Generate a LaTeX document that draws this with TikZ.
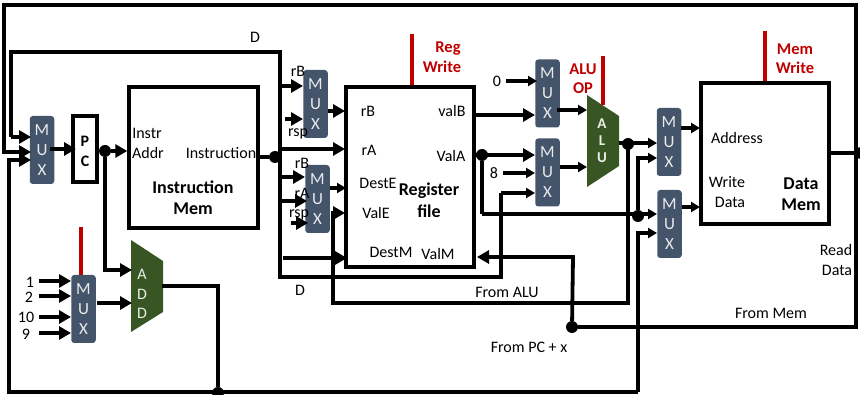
\documentclass[tikz,border=0pt]{standalone}
\usepackage{fontspec}
\setmainfont{Carlito}
\usetikzlibrary{arrows.meta}
\definecolor{muxblue}{HTML}{44546A}
\definecolor{unitgreen}{HTML}{375623}
\definecolor{ctrlred}{HTML}{C00000}
\tikzset{
  muxbox/.style={fill=muxblue,rounded corners=3pt,minimum width=24.5pt,minimum height=68pt,inner sep=0pt,
    text=white!88!muxblue,align=center,font=\fontsize{17}{20}\selectfont},
  membox/.style={draw,line width=3.5pt,fill=white,inner sep=0pt},
  unitshape/.style={fill=unitgreen},
  unittext/.style={text=white!90!unitgreen,align=center},
  dotnode/.style={circle,fill=black,inner sep=0pt,minimum size=12pt},
  wire/.style={line width=3.8pt,line join=miter},
  wirearrow/.style={wire,-{Triangle[length=12pt,width=13pt]}},
  thinarrow/.style={line width=3.3pt,-{Triangle[length=9pt,width=10pt]}},
  ctrl/.style={ctrlred,line width=4pt},
  lab/.style={font=\fontsize{16}{20}\selectfont,align=center,inner sep=0pt},
  boldlab/.style={lab,font=\fontsize{18}{21.5}\selectfont\bfseries},
  redlab/.style={lab,font=\fontsize{16.5}{19.5}\selectfont\bfseries,text=ctrlred},
}
\begin{document}
\begin{tikzpicture}[x=1pt,y=-1pt]
\useasboundingbox (0,0) rectangle (860,395);
% boxes
\node[membox,minimum width=24pt,minimum height=66pt] (pc) at (85,149) {};
\node[membox,minimum width=129pt,minimum height=141pt] (imem) at (193.5,157.5) {};
\node[membox,minimum width=128pt,minimum height=180pt] (regfile) at (410,177) {};
\node[membox,minimum width=128pt,minimum height=141pt] (dmem) at (765,153.5) {};
\foreach \name/\x/\y in {muxpc/42/150,muxconst/83.5/309,muxrb/315.5/104,muxdest/317.5/199,
  muxalub/547.5/93.5,muxalua/547.5/172.5,muxaddr/669/142,muxdata/669.5/224}
  \node[muxbox] (\name) at (\x,\y) {M\\U\\X};
\fill[unitshape] (131,240) -- (163,261) -- (163,312) -- (131,332) -- cycle;
\fill[unitshape] (587,95) -- (619,116) -- (619,166) -- (587,187) -- cycle;
% ports and bends
\foreach \name/\x/\y in {toprgt/856/5,toplft/4/5,dlft/11/52,drgt/280/52,dbot/280/277,dend/501/277,
  pcb/31/137,pca/31/152,pcc/31/160,botlft/9/392,botrgt/638/392,pcout/50/149,pcin/76/149,addout/162/286,
  addbend/218/286,adda/132/270,addb/132/303,conb/97/303,memrgt/856/329,
  ca/39/281,cb/39/296,cc/39/317,cd/39/333,cae/71/281,cbe/71/296,cce/71/317,cde/71/333,
  rba/303/86,rbb/285/119,rbbe/303/119,rbo/328/111,rbe/345/111,rae/345/149,raf/280/149,
  dsa/280/177,dsae/305/177,dsb/280/201,dsbe/307/201,dsc/291/223,dsce/308/223,dso/330/188,dse/346/188,
  dmf/283/258,dme/347/258,vee/345/213,vebot/333/303,verig/628/303,
  vbo/476/115,vbe/535/115,vao/476/155,vae/535/155,eighta/503/173,eighte/535/173,
  zeroa/506/81,zeroe/537/81,adde/535/193,mbo/557/110,mbe/587/110,mao/560/167,mae/587/167,
  aluo/619/143,alue/657/143,mxae/657/158,wdl/482/214,wde/657/214,mxbe/657/233,
  mxao/681/128,mxoe/700/128,mxco/682/207,mxde/700/207,vmf/573/257,vme/477/257,instout/258/157,
  ca1/81/227,rw1/412/34,rw2/412/85,ao1/603/56,ao2/603/105,mw1/765/31,mw2/765/81,ca2/81/275}
  \coordinate (\name) at (\x,\y);
\node[dotnode] (pcdot) at (105,151) {};
\node[dotnode] (instdot) at (275,157) {};
\node[dotnode] (adddot) at (218,393) {};
\node[dotnode] (memdot) at (572,327) {};
\node[dotnode] (valadot) at (482,155) {};
\node[dotnode] (aludot) at (628,144) {};
\node[dotnode] (wddot) at (638,216) {};
\node[dotnode] (readdot) at (861,153) {};
% wires
\draw[wirearrow] (memdot) -| (memrgt) -- (toprgt) -- (toplft) |- (pca);
\draw[wire] (dlft |- pcb) -- (dlft) -- (drgt) -- (dbot) -- (dend) -- (dend |- adde);
\draw[wirearrow] (dlft |- pcb) -- (pcb);
\draw[thinarrow] (dend |- adde) -- (adde);
\draw[thinarrow] (botrgt) |- (mxbe);
\draw[wirearrow] (botrgt) -- (botlft) |- (pcc);
\draw[wirearrow] (pcout) -- (pcin);
\draw[wirearrow] (pcdot) -- (pcdot -| imem.west);
\draw[wirearrow] (pcdot) |- (adda);
\draw[wirearrow] (conb) -- (addb);
\draw[wire] (addout) -- (addbend) -- (adddot);
\draw[wire] (instout) -- (instdot) -- (instdot -| drgt);
\draw[wirearrow] (rba -| drgt) -- (rba);
\foreach \a/\b in {ca/cae,cb/cbe,cc/cce,cd/cde,rbb/rbbe,rbo/rbe,raf/rae,dsa/dsae,dsb/dsbe,dsc/dsce,dmf/dme,
  vbo/vbe,vao/vae}
  \draw[wirearrow] (\a) -- (\b);
\draw[wirearrow] (verig |- aludot) -- (verig) -- (vebot) |- (vee);
\draw[wirearrow] (memdot) -- (vmf) -- (vme);
\draw[wire] (valadot) |- (wdl);
\draw[thinarrow] (wdl) -- (wde);
\draw[thinarrow] (wddot) |- (mxae);
\foreach \a/\b in {dso/dse,eighta/eighte,zeroa/zeroe,mbo/mbe,mao/mae,aluo/alue,mxao/mxoe,mxco/mxde}
  \draw[thinarrow] (\a) -- (\b);
\draw[wire] (dmem.east |- readdot) -- (readdot);
% control lines
\draw[ctrl] (ca1) -- (ca2);
\draw[ctrl] (rw1) -- (rw2);
\draw[ctrl] (ao1) -- (ao2);
\draw[ctrl] (mw1) -- (mw2);
% labels
\node[unittext,font=\fontsize{16}{19.5}\selectfont] (addtext) at (142,294) {A\\D\\D};
\node[unittext,font=\fontsize{15}{17}\selectfont\bfseries] (alutext) at (602,141) {A\\L\\U};
\node[boldlab,font=\fontsize{16}{20}\selectfont\bfseries] (pctext) at (85,151) {P\\C};
\node[boldlab] (imemtext) at (193,197.5) {Instruction\\Mem};
\node[boldlab] (regtext) at (429,200.5) {Register\\file};
\node[boldlab] (dmemtext) at (801,194) {Data\\Mem};
\node[redlab] (regwrite) at (442,57) {\hspace*{12pt}Reg\\Write};
\node[redlab] (aluop) at (583,78.5) {ALU\\OP};
\node[redlab] (memwrite) at (795,58.5) {Mem\\Write};
\foreach \name/\x/\y/\txt in {dtop/255/37/D,dlow/300/290/D,one/30/282/1,two/29/297/2,ten/26/317/10,nine/26/334/9,
  rbtop/298/71/rB,rsptop/298/134/rsp,rblow/302/163/rB,ralow/302/193/rA,rsplow/299/215/rsp,
  rbin/368/111/rB,rain/369/150/rA,deste/378/183/DestE,vale/376/213/ValE,destm/391/252/DestM,valm/438/254/ValM,
  valb/452/111/valB,vala/451/156/ValA,zero/497/81/0,eight/494/173/8,
  instr/147/133/Instr,addr/148/153/Addr,instruction/221/153/Instruction,
  address/737/138/Address,write/727/182/Write,data/730/202/Data,read/836/250/Read,rdata/837/270/Data,
  fromalu/507/292/From ALU,frompc/529/347/From PC + x,frommem/771/313/From Mem}
  \node[lab] (\name) at (\x,\y) {\txt};
\end{tikzpicture}
\end{document}
